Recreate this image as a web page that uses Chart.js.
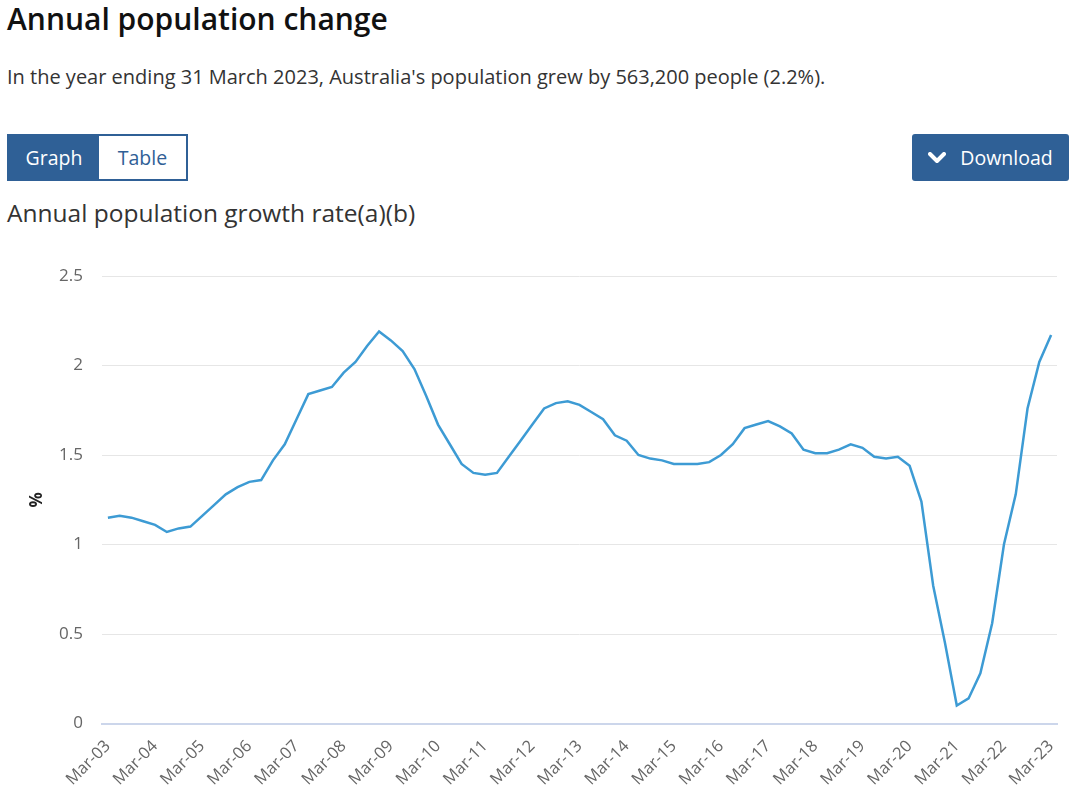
<!DOCTYPE html>
<html>
<head>
<meta charset="utf-8">
<script src="https://cdn.jsdelivr.net/npm/chart.js@4.4.0/dist/chart.umd.min.js"></script>
<style>
  body { margin: 0; background: #fff; font-family: "Open Sans", sans-serif; }
  .abs { position: absolute; white-space: nowrap; }
  #title { left: 7px; top: -2px; font-size: 30px; color: #111; font-weight: 600; line-height: normal; }
  #sub { left: 7px; top: 63px; font-size: 20px; color: #333; line-height: normal; }
  #chartTitle { left: 7px; top: 196px; font-size: 24.5px; color: #333; line-height: normal; }
  .btn { position: absolute; top: 134px; height: 47px; box-sizing: border-box; font-size: 19.5px;
         display: flex; align-items: center; justify-content: center; }
  #graphBtn { left: 7px; width: 94px; background: #2f6096; color: #fff; }
  #tableBtn { left: 99px; width: 89px; border: 2px solid #2f6096; border-left: none; color: #2f6096; background: #fff; }
  #dlBtn { left: 912px; width: 157px; background: #2f6096; color: #fff; border-radius: 3px; }
  #dlBtn svg { margin-right: 14px; }
  #wrap { position: absolute; left: 0; top: 240px; width: 1087px; height: 557px; }
</style>
</head>
<body>
<div class="abs" id="title">Annual population change</div>
<div class="abs" id="sub">In the year ending 31 March 2023, Australia's population grew by 563,200 people (2.2%).</div>
<div class="btn" id="graphBtn">Graph</div>
<div class="btn" id="tableBtn">Table</div>
<div class="btn" id="dlBtn"><svg width="18" height="12" viewBox="0 0 18 12"><path d="M2 2 L9 9 L16 2" stroke="#fff" stroke-width="4" fill="none" stroke-linecap="round" stroke-linejoin="round"/></svg>Download</div>
<div class="abs" id="chartTitle">Annual population growth rate(a)(b)</div>
<div id="wrap"><canvas id="growthChart"></canvas></div>

<script>
// quarters, Mar-03 to Mar-23
const quarters = [
  'Mar-03', 'Jun-03', 'Sep-03', 'Dec-03',
  'Mar-04', 'Jun-04', 'Sep-04', 'Dec-04',
  'Mar-05', 'Jun-05', 'Sep-05', 'Dec-05',
  'Mar-06', 'Jun-06', 'Sep-06', 'Dec-06',
  'Mar-07', 'Jun-07', 'Sep-07', 'Dec-07',
  'Mar-08', 'Jun-08', 'Sep-08', 'Dec-08',
  'Mar-09', 'Jun-09', 'Sep-09', 'Dec-09',
  'Mar-10', 'Jun-10', 'Sep-10', 'Dec-10',
  'Mar-11', 'Jun-11', 'Sep-11', 'Dec-11',
  'Mar-12', 'Jun-12', 'Sep-12', 'Dec-12',
  'Mar-13', 'Jun-13', 'Sep-13', 'Dec-13',
  'Mar-14', 'Jun-14', 'Sep-14', 'Dec-14',
  'Mar-15', 'Jun-15', 'Sep-15', 'Dec-15',
  'Mar-16', 'Jun-16', 'Sep-16', 'Dec-16',
  'Mar-17', 'Jun-17', 'Sep-17', 'Dec-17',
  'Mar-18', 'Jun-18', 'Sep-18', 'Dec-18',
  'Mar-19', 'Jun-19', 'Sep-19', 'Dec-19',
  'Mar-20', 'Jun-20', 'Sep-20', 'Dec-20',
  'Mar-21', 'Jun-21', 'Sep-21', 'Dec-21',
  'Mar-22', 'Jun-22', 'Sep-22', 'Dec-22',
  'Mar-23'
];

// annual growth rate (%)
const growthRate = [
  1.15, 1.16, 1.15, 1.13, 1.11, 1.07, 1.09, 1.10, 1.16, 1.22,
  1.28, 1.32, 1.35, 1.36, 1.47, 1.56, 1.70, 1.84, 1.86, 1.88,
  1.96, 2.02, 2.11, 2.19, 2.14, 2.08, 1.98, 1.83, 1.67, 1.56,
  1.45, 1.40, 1.39, 1.40, 1.49, 1.58, 1.67, 1.76, 1.79, 1.80,
  1.78, 1.74, 1.70, 1.61, 1.58, 1.50, 1.48, 1.47, 1.45, 1.45,
  1.45, 1.46, 1.50, 1.56, 1.65, 1.67, 1.69, 1.66, 1.62, 1.53,
  1.51, 1.51, 1.53, 1.56, 1.54, 1.49, 1.48, 1.49, 1.44, 1.24,
  0.77, 0.45, 0.10, 0.14, 0.28, 0.56, 1.00, 1.28, 1.76, 2.02,
  2.17
];

// y axis ticks
const yTicks = [0, 0.5, 1, 1.5, 2, 2.5];
const yTickLabels = ['0', '0.5', '1', '1.5', '2', '2.5'];

const ctx = document.getElementById('growthChart');

new Chart(ctx, {
    type: 'line',
    data: {
        labels: quarters,
        datasets: [{
            label: 'Annual population growth rate',
            data: growthRate,
            borderColor: '#3d9bd4',
            borderWidth: 2.5,
            pointRadius: 0,
            tension: 0,
            fill: false
        }]
    },
    options: {
        responsive: true,
        maintainAspectRatio: false,
        animation: false,
        layout: { padding: { top: 36, right: 30, left: 0, bottom: 0 } },
        plugins: {
            legend: { display: false },
            tooltip: { enabled: false }
        },
        scales: {
            x: {
                offset: true,
                grid: { display: false, drawTicks: false },
                border: { color: '#ccd6eb', width: 2 },
                ticks: {
                    autoSkip: false,
                    maxRotation: 45,
                    minRotation: 45,
                    padding: 13,
                    color: '#666',
                    font: { family: 'Open Sans', size: 16.5 },
                    callback: (val, i) => (i % 4 === 0 ? quarters[i] : '')
                },
                afterFit: (scale) => { scale.height = 73.5; }
            },
            y: {
                min: 0,
                max: 2.5,
                afterBuildTicks: (scale) => { scale.ticks = yTicks.map(v => ({ value: v })); },
                grid: { color: '#e6e6e6', drawTicks: false },
                border: { display: false },
                ticks: {
                    padding: 19,
                    color: '#666',
                    font: { family: 'Open Sans', size: 17 },
                    callback: (val, i) => yTickLabels[i]
                },
                title: {
                    display: true,
                    text: '%',
                    color: '#222',
                    font: { family: 'Open Sans', size: 17, weight: 'bold' },
                    padding: { top: 27 }
                },
                afterFit: (scale) => { scale.width = 102; }
            }
        }
    }
});
</script>
</body>
</html>
